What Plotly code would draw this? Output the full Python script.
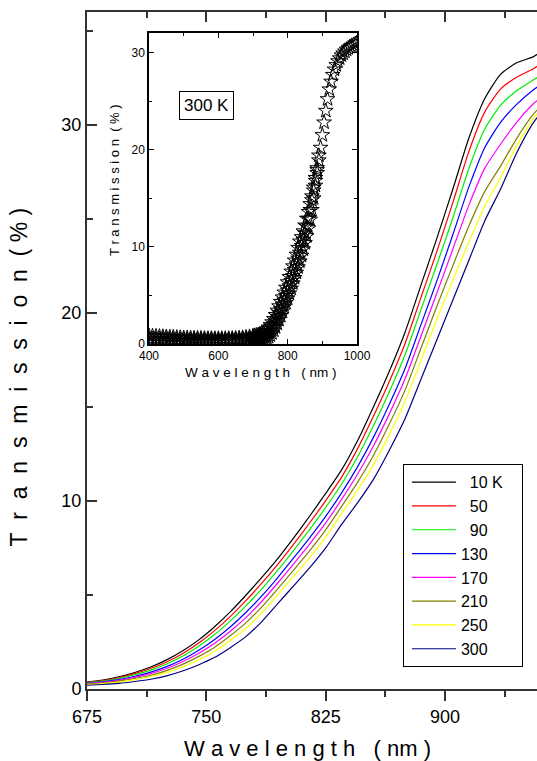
import plotly.graph_objects as go

# ---- main panel: transmission spectra at several temperatures ----
wavelength = list(range(675, 956, 10)) + [958]

temps = ["\u200710 K\u00a0\u00a0\u00a0", "\u200750", "\u200790", "130", "170", "210", "250", "300"]
colors = ["#000000", "#ff0000", "#00ee00", "#0000ff", "#ff00ff", "#808000", "#ffff00", "#000080"]

t_10 = [0.37, 0.48, 0.65, 0.88, 1.17, 1.55, 2.02, 2.6, 3.3, 4.1, 5.0, 5.95, 6.95, 8.05, 9.2,
        10.4, 11.65, 13.2, 15.0, 16.9, 19.0, 21.5, 24.0, 26.6, 29.3, 31.4, 32.7, 33.3, 33.6, 33.75]
t_50 = [0.35, 0.45, 0.60, 0.82, 1.09, 1.44, 1.88, 2.43, 3.09, 3.85, 4.71, 5.64, 6.64, 7.72, 8.84,
        10.02, 11.27, 12.77, 14.5, 16.35, 18.4, 20.85, 23.3, 25.89, 28.59, 30.69, 31.91, 32.53, 32.96, 33.11]
t_90 = [0.33, 0.42, 0.56, 0.76, 1.0, 1.33, 1.74, 2.26, 2.88, 3.61, 4.43, 5.34, 6.33, 7.39, 8.49,
        9.65, 10.9, 12.34, 14.0, 15.81, 17.8, 20.2, 22.6, 25.07, 27.68, 29.78, 31.05, 31.81, 32.36, 32.51]
t_130 = [0.30, 0.38, 0.50, 0.68, 0.90, 1.19, 1.57, 2.05, 2.62, 3.30, 4.08, 4.96, 5.94, 6.98, 8.05,
         9.18, 10.43, 11.81, 13.38, 15.14, 17.07, 19.4, 21.73, 24.18, 26.70, 28.80, 30.14, 31.09, 31.83, 32.01]
t_170 = [0.28, 0.35, 0.46, 0.62, 0.82, 1.09, 1.45, 1.89, 2.42, 3.07, 3.81, 4.68, 5.65, 6.67, 7.72,
         8.83, 10.08, 11.42, 12.92, 14.63, 16.52, 18.8, 21.08, 23.41, 25.73, 27.70, 28.98, 30.13, 31.08, 31.30]
t_210 = [0.26, 0.32, 0.42, 0.56, 0.73, 0.98, 1.31, 1.72, 2.21, 2.83, 3.53, 4.38, 5.34, 6.34, 7.36,
         8.46, 9.71, 10.99, 12.42, 14.09, 15.92, 18.15, 20.38, 22.53, 24.62, 26.46, 27.82, 29.27, 30.51, 30.80]
t_250 = [0.23, 0.29, 0.37, 0.50, 0.65, 0.87, 1.17, 1.54, 2.0, 2.58, 3.24, 4.07, 5.03, 6.01, 7.0,
         8.08, 9.33, 10.56, 11.92, 13.54, 15.32, 17.5, 19.68, 21.76, 23.78, 25.68, 27.21, 28.88, 30.26, 30.60]
t_300 = [0.20, 0.24, 0.30, 0.40, 0.52, 0.70, 0.96, 1.28, 1.67, 2.2, 2.8, 3.6, 4.55, 5.5, 6.45,
         7.5, 8.75, 9.9, 11.15, 12.7, 14.4, 16.5, 18.6, 20.7, 22.8, 24.9, 26.6, 28.5, 30.05, 30.4]
series = [t_10, t_50, t_90, t_130, t_170, t_210, t_250, t_300]

# ---- inset: 300 K spectra over the wide range ----
inset_wl = list(range(400, 700, 10)) + list(range(700, 1001, 5))
# left strand, recorded up to 890 nm
inset_a = [0.85, 0.83, 0.81, 0.79, 0.77, 0.75, 0.73, 0.71, 0.69, 0.67, 0.65, 0.64, 0.63, 0.62, 0.61,
           0.60, 0.59, 0.58, 0.58, 0.57, 0.57, 0.57, 0.57, 0.58, 0.59, 0.61, 0.63, 0.66, 0.70, 0.76,
           0.84, 0.88, 0.9, 0.95, 1.0, 1.1, 1.2, 1.35, 1.5, 1.7, 1.95, 2.25, 2.58, 2.99, 3.44, 3.89,
           4.34, 4.8, 5.3, 5.8, 6.36, 6.9, 7.46, 8.0, 8.6, 9.2, 9.9, 10.55, 11.0, 11.6, 12.2, 12.9,
           13.6, 14.4, 15.2, 16.1, 17.1, 18.1, 19.4]
# middle strand, recorded up to 885 nm
inset_b = [0.55, 0.54, 0.53, 0.52, 0.51, 0.50, 0.49, 0.48, 0.47, 0.46, 0.45, 0.44, 0.43, 0.43, 0.42,
           0.42, 0.41, 0.41, 0.41, 0.41, 0.41, 0.42, 0.42, 0.43, 0.44, 0.45, 0.47, 0.49, 0.52, 0.56,
           0.62, 0.62, 0.63, 0.64, 0.66, 0.7, 0.76, 0.85, 0.98, 1.15, 1.38, 1.68, 2.0, 2.4, 2.8, 3.2,
           3.6, 4.05, 4.5, 4.95, 5.5, 5.95, 6.5, 7.0, 7.6, 8.2, 8.8, 9.4, 10.1, 10.7, 11.4, 12.1,
           12.9, 13.8, 14.8, 15.8, 16.8, 17.9]
inset_c = [0.32, 0.31, 0.30, 0.30, 0.29, 0.28, 0.28, 0.27, 0.27, 0.26, 0.26, 0.25, 0.25, 0.25, 0.24,
           0.24, 0.24, 0.24, 0.24, 0.24, 0.25, 0.25, 0.25, 0.26, 0.27, 0.28, 0.29, 0.30, 0.31, 0.33,
           0.35, 0.35, 0.35, 0.36, 0.38, 0.41, 0.45, 0.52, 0.6, 0.73, 0.9, 1.13, 1.4, 1.73, 2.1, 2.5,
           2.9, 3.35, 3.8, 4.25, 4.7, 5.2, 5.7, 6.25, 6.8, 7.35, 7.9, 8.5, 9.1, 9.75, 10.4, 11.1,
           11.9, 12.8, 13.8, 15.0, 16.3, 17.6, 18.9, 20.2, 21.5, 22.8, 24.0, 25.2, 26.2, 27.0, 27.7,
           28.25, 28.7, 29.1, 29.4, 29.7, 29.9, 30.1, 30.3, 30.45, 30.6, 30.7, 30.8, 30.9, 31.0]
inset_series = [inset_a, inset_b, inset_c]

FONT = "Liberation Sans, Arial, sans-serif"
AXIS = "#333333"

fig = go.Figure()

for name, color, vals in zip(temps, colors, series):
    fig.add_trace(go.Scatter(
        x=wavelength, y=vals, mode="lines", name=name,
        line=dict(color=color, width=1.2, shape="spline", smoothing=0.6),
        xaxis="x", yaxis="y",
    ))

# carrier for the top frame axis
fig.add_trace(go.Scatter(x=[], y=[], xaxis="x2", yaxis="y", showlegend=False, hoverinfo="skip"))

for vals in inset_series:
    fig.add_trace(go.Scatter(
        x=inset_wl[:len(vals)], y=vals, mode="markers", showlegend=False,
        marker=dict(symbol="star-open", size=11, color="black", line=dict(width=1, color="black")),
        xaxis="x3", yaxis="y3",
    ))

x_range = [675, 957.8]

fig.update_layout(
    width=537, height=761, autosize=False,
    margin=dict(l=87, r=0, t=12, b=72, autoexpand=False),
    paper_bgcolor="white", plot_bgcolor="white",
    font=dict(family=FONT, color="black"),
    showlegend=True,
    legend=dict(
        x=0.702, y=0.332, xanchor="left", yanchor="top",
        bgcolor="white", bordercolor="black", borderwidth=1,
        font=dict(size=16, family=FONT), itemwidth=44, indentation=3,
        tracegroupgap=0,
    ),
    xaxis=dict(
        range=x_range, tick0=675, dtick=75, ticks="outside", ticklen=10, tickwidth=1.5,
        tickcolor=AXIS, minor=dict(dtick=37.5, ticks="outside", ticklen=6, tickwidth=1.5, tickcolor=AXIS),
        showline=True, linecolor=AXIS, linewidth=2, showgrid=False, zeroline=False,
        tickfont=dict(size=18), domain=[0, 1],
    ),
    xaxis2=dict(
        range=x_range, overlaying="x", side="top", anchor="y", tick0=675, dtick=75,
        ticks="inside", ticklen=10, tickwidth=1.5, tickcolor=AXIS,
        minor=dict(dtick=37.5, ticks="inside", ticklen=6, tickwidth=1.5, tickcolor=AXIS),
        showline=True, linecolor=AXIS, linewidth=2, showgrid=False, zeroline=False,
        showticklabels=False,
    ),
    yaxis=dict(
        range=[0, 36], tick0=0, dtick=10, ticks="inside", ticklen=10, tickwidth=1.5, tickcolor=AXIS,
        minor=dict(dtick=5, ticks="inside", ticklen=6, tickwidth=1.5, tickcolor=AXIS),
        showline=True, linecolor=AXIS, linewidth=2, showgrid=False, zeroline=False,
        tickfont=dict(size=18), domain=[0, 1],
    ),
    xaxis3=dict(
        domain=[0.1378, 0.6], anchor="y3", range=[400, 1000], tick0=400, dtick=200,
        ticks="inside", ticklen=5, tickwidth=1, tickcolor="black",
        minor=dict(dtick=100, ticks="inside", ticklen=3, tickwidth=1, tickcolor="black"),
        mirror="allticks", showline=True, linecolor="black", linewidth=1.5,
        showgrid=False, zeroline=False, tickfont=dict(size=12),
    ),
    yaxis3=dict(
        domain=[0.5096, 0.969], anchor="x3", range=[0, 32], tick0=0, dtick=10,
        ticks="inside", ticklen=5, tickwidth=1, tickcolor="black",
        minor=dict(dtick=5, ticks="inside", ticklen=3, tickwidth=1, tickcolor="black"),
        mirror="allticks", showline=True, linecolor="black", linewidth=1.5,
        showgrid=False, zeroline=False, tickfont=dict(size=12),
    ),
)

NB = "\u00a0"
main_x_title = " ".join("Wavelength") + NB * 3 + "(" + NB + "nm" + NB + ")"
main_y_title = (NB * 2).join("Transmission") + NB * 2 + "(" + NB + "%" + NB + ")"
inset_x_title = " ".join("Wavelength") + NB * 3 + "(" + NB + "nm" + NB + ")"
inset_y_title = " ".join("Transmission") + NB * 2 + "(" + NB + "%" + NB + ")"

annotations = [
    dict(text=main_x_title, xref="paper", yref="paper", x=0.4900, y=-0.0886,
         xanchor="center", yanchor="middle", showarrow=False, font=dict(size=22)),
    dict(text=main_y_title, xref="paper", yref="paper", x=-0.1489, y=0.4616,
         xanchor="center", yanchor="middle", textangle=-90, showarrow=False, font=dict(size=23)),
    dict(text=inset_x_title, xref="paper", yref="paper", x=0.3867, y=0.468,
         xanchor="center", yanchor="middle", showarrow=False, font=dict(size=13.5)),
    dict(text=inset_y_title, xref="paper", yref="paper", x=0.0622, y=0.752,
         xanchor="center", yanchor="middle", textangle=-90, showarrow=False, font=dict(size=13)),
    dict(text="300 K", xref="x3", yref="y3", x=567, y=24.5, xanchor="center", yanchor="middle",
         showarrow=False, font=dict(size=17), bordercolor="black", borderwidth=1, borderpad=4,
         bgcolor="white"),
]
fig.update_layout(annotations=annotations)

fig.write_html("out.html", config={"responsive": False})
